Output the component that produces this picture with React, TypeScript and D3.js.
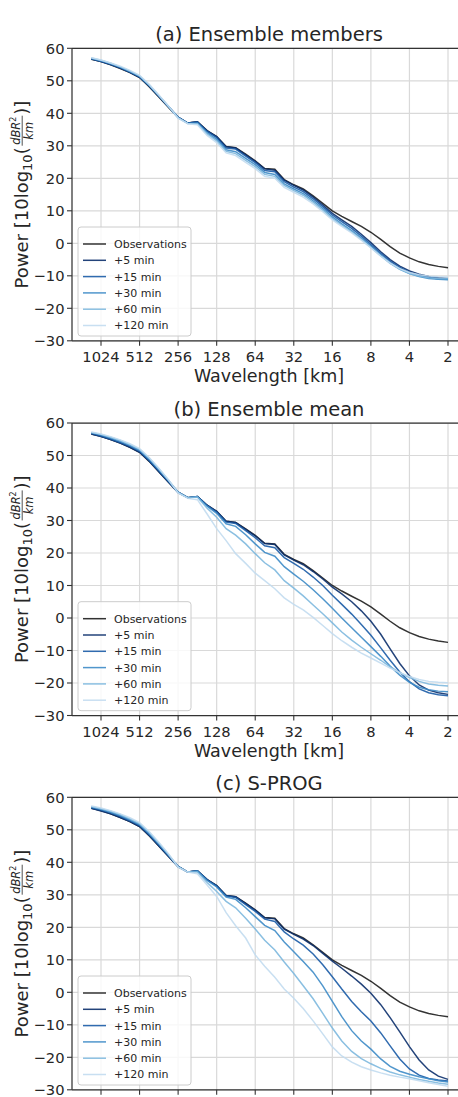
import React from 'react';
import * as d3 from 'd3';

// wavelengths [km], quarter-octave steps from the largest scale down to 2 km
const wavelengths = [1218, 1024, 861, 724, 609, 512, 431, 362, 304, 256, 215, 181, 152, 128, 108, 91, 76, 64, 54, 45, 38, 32, 27, 22.6, 19, 16, 13.5, 11.3, 9.5, 8, 6.7, 5.66, 4.76, 4, 3.36, 2.83, 2.38, 2];

const observations = [56.6, 55.9, 54.9, 53.8, 52.5, 51.0, 48.2, 45.0, 41.8, 38.7, 37.0, 37.4, 34.7, 32.8, 29.8, 29.4, 27.4, 25.4, 23.0, 22.8, 19.6, 18.0, 16.7, 14.6, 12.3, 10.0, 8.3, 6.7, 5.2, 3.4, 1.2, -1.0, -3.0, -4.5, -5.7, -6.5, -7.1, -7.5];

// (a) ensemble members
const membersP5 = [56.7, 55.9, 55.0, 53.9, 52.6, 51.1, 48.4, 45.2, 42.0, 38.8, 37.0, 37.4, 34.6, 32.8, 29.7, 29.3, 27.2, 25.2, 22.9, 22.5, 19.4, 17.8, 16.4, 14.2, 11.8, 9.2, 7.2, 5.2, 2.8, 0.2, -2.6, -5.0, -7.0, -8.5, -9.5, -10.2, -10.6, -10.8];
const membersP15 = [56.8, 56.0, 55.1, 54.0, 52.7, 51.2, 48.5, 45.3, 42.0, 38.8, 37.0, 37.3, 34.4, 32.5, 29.3, 29.0, 26.8, 24.8, 22.4, 22.0, 19.0, 17.3, 15.9, 13.7, 11.3, 8.7, 6.7, 4.6, 2.2, -0.4, -3.1, -5.5, -7.4, -8.9, -9.9, -10.5, -10.9, -11.0];
const membersP30 = [56.9, 56.2, 55.3, 54.2, 52.9, 51.4, 48.6, 45.4, 42.1, 38.7, 36.9, 37.0, 34.0, 32.0, 28.8, 28.2, 26.1, 24.2, 21.8, 21.2, 18.3, 16.7, 15.3, 13.1, 10.7, 8.1, 6.0, 3.9, 1.6, -0.9, -3.6, -6.0, -7.9, -9.3, -10.2, -10.8, -11.1, -11.2];
const membersP60 = [57.0, 56.3, 55.4, 54.3, 53.0, 51.5, 48.8, 45.5, 42.1, 38.6, 36.9, 36.8, 33.6, 31.5, 28.3, 27.6, 25.5, 23.6, 21.2, 20.6, 17.8, 16.2, 14.8, 12.6, 10.2, 7.6, 5.6, 3.5, 1.2, -1.3, -3.9, -6.2, -8.0, -9.3, -10.1, -10.6, -10.8, -10.9];
const membersP120 = [57.1, 56.4, 55.5, 54.5, 53.2, 51.7, 48.9, 45.6, 42.2, 38.5, 36.8, 36.5, 33.2, 31.0, 27.8, 27.0, 24.9, 23.0, 20.6, 20.0, 17.2, 15.7, 14.2, 12.1, 9.7, 7.2, 5.2, 3.2, 1.0, -1.4, -3.9, -6.1, -7.8, -9.0, -9.7, -10.1, -10.3, -10.4];

// (b) ensemble mean
const meanP5 = [56.6, 55.8, 54.9, 53.8, 52.5, 51.0, 48.3, 45.0, 41.8, 38.6, 37.0, 37.4, 34.7, 32.8, 29.8, 29.4, 27.3, 25.3, 22.9, 22.6, 19.4, 17.8, 16.4, 14.3, 12.0, 9.5, 7.4, 5.0, 2.2, -1.0, -5.0, -9.5, -14.0, -17.8, -20.6, -22.2, -23.0, -23.5];
const meanP15 = [56.8, 56.0, 55.1, 54.0, 52.8, 51.3, 48.5, 45.3, 42.0, 38.7, 37.0, 37.4, 34.6, 32.6, 29.5, 29.1, 26.9, 24.7, 22.2, 21.6, 18.6, 16.8, 15.0, 12.6, 10.0, 7.0, 4.2, 1.2, -2.0, -5.3, -9.2, -13.0, -16.6, -19.6, -21.8, -23.0, -23.6, -23.9];
const meanP30 = [57.0, 56.3, 55.4, 54.4, 53.1, 51.6, 48.9, 45.6, 42.2, 38.7, 37.0, 37.3, 34.4, 32.2, 29.0, 28.2, 25.6, 22.8, 20.2, 19.0, 15.8, 13.5, 11.3, 8.7, 5.9, 3.0, 0.0, -3.0, -5.9, -8.8, -11.8, -14.8, -17.6, -19.8, -21.3, -22.1, -22.5, -22.7];
const meanP60 = [57.1, 56.5, 55.6, 54.6, 53.4, 51.9, 49.2, 45.9, 42.4, 38.6, 37.0, 37.2, 33.8, 31.0, 27.5, 25.5, 22.8, 19.8, 17.0, 14.8, 11.5, 9.2, 6.8, 4.0, 1.3, -1.5, -4.3, -6.8, -9.0, -11.0, -13.0, -15.0, -16.8, -18.3, -19.5, -20.3, -20.7, -20.9];
const meanP120 = [57.2, 56.6, 55.8, 54.8, 53.6, 52.1, 49.4, 46.1, 42.5, 38.5, 36.8, 36.4, 32.0, 27.5, 23.8, 19.8, 16.8, 13.8, 11.5, 9.0, 6.2, 4.2, 2.5, 0.2, -2.3, -4.8, -7.0, -9.0, -10.8, -12.3, -13.9, -15.4, -16.8, -18.0, -18.9, -19.5, -19.8, -19.9];

// (c) S-PROG
const sprogP5 = [56.6, 55.8, 54.9, 53.8, 52.5, 51.0, 48.3, 45.0, 41.8, 38.6, 37.0, 37.4, 34.7, 32.8, 29.8, 29.4, 27.3, 25.3, 22.9, 22.6, 19.4, 17.8, 16.4, 14.4, 12.0, 9.6, 7.4, 5.0, 2.5, -0.3, -3.8, -7.8, -12.2, -16.7, -20.8, -23.9, -25.8, -26.8];
const sprogP15 = [56.8, 56.1, 55.2, 54.1, 52.8, 51.3, 48.5, 45.3, 42.0, 38.7, 37.0, 37.4, 34.6, 32.7, 29.6, 29.2, 27.0, 24.9, 22.5, 21.8, 18.6, 16.4, 14.5, 11.8, 8.5, 4.8, 1.0, -2.8, -6.0, -8.8, -12.5, -16.5, -20.5, -23.6, -25.5, -26.5, -27.0, -27.3];
const sprogP30 = [57.0, 56.3, 55.4, 54.4, 53.1, 51.6, 48.9, 45.6, 42.2, 38.7, 37.0, 37.3, 34.4, 32.4, 29.3, 28.6, 26.0, 23.3, 20.6, 19.0, 15.5, 12.5, 9.5, 6.2, 2.0, -2.8, -7.5, -11.8, -15.0, -17.5, -20.5, -22.8, -24.3, -25.2, -26.0, -26.6, -27.2, -27.6];
const sprogP60 = [57.2, 56.5, 55.7, 54.7, 53.4, 51.9, 49.2, 45.9, 42.4, 38.6, 37.0, 37.0, 33.8, 31.0, 28.0, 26.0, 22.8, 19.5, 16.0, 13.0, 9.3, 5.8, 2.0, -2.0, -6.5, -11.0, -15.0, -18.2, -20.4, -22.0, -23.4, -24.5, -25.4, -26.1, -26.8, -27.4, -27.9, -28.3];
const sprogP120 = [57.3, 56.7, 55.9, 54.9, 53.7, 52.2, 49.5, 46.2, 42.6, 38.5, 37.0, 36.5, 33.0, 29.5, 24.5, 20.5, 16.7, 11.5, 8.0, 4.6, 1.0, -1.8, -5.0, -8.8, -12.8, -16.8, -19.6, -21.5, -22.9, -23.9, -24.8, -25.5, -26.1, -26.6, -27.2, -27.8, -28.4, -28.9];

const leadTimes = ['+5 min', '+15 min', '+30 min', '+60 min', '+120 min'];
const leadColors = ['#0b2f6b', '#1a5ba6', '#3d8bc6', '#7db8de', '#c2dbef'];
const panelTitles = ['(a) Ensemble members', '(b) Ensemble mean', '(c) S-PROG'];
const xTicks = [1024, 512, 256, 128, 64, 32, 16, 8, 4, 2];
const yTicks = [-30, -20, -10, 0, 10, 20, 30, 40, 50, 60];

const panelSeries = [
  [membersP5, membersP15, membersP30, membersP60, membersP120],
  [meanP5, meanP15, meanP30, meanP60, meanP120],
  [sprogP5, sprogP15, sprogP30, sprogP60, sprogP120],
];

const W = 458;
const H = 1097;
const left = 72;
const right = 466;
const plotH = 292.5;
const panelTops = [48.3, 423, 797.3];
const font = '"DejaVu Sans", sans-serif';
const ink = '#262626';

const fmt = (v: number) => (v < 0 ? '\u2212' + Math.abs(v) : String(v));

function YLabel({ cx, cy }: { cx: number; cy: number }) {
  // Power [10log_10(dBR^2/km)], laid out piecewise with DejaVu Sans advance widths
  const fs = 18;
  const subFs = 13;
  const w1 = 6.564 * fs;
  const wSub = 1.272 * subFs;
  const wPar = 0.39 * fs;
  const wFrac = 30;
  const total = w1 + wSub + wPar + wFrac + 2 + wPar * 2;
  const s = -total / 2;
  const fx = s + w1 + wSub + wPar + 1;
  return (
    <g transform={`translate(${cx},${cy}) rotate(-90)`} fontFamily={font} fill={ink}>
      <text x={s} y={0} fontSize={fs}>
        Power [10log<tspan fontSize={subFs} dy={4}>10</tspan>
        <tspan dy={-4}>(</tspan>
      </text>
      <text x={fx + wFrac / 2} y={-8.5} fontSize={11.5} fontStyle="italic" textAnchor="middle">
        dBR<tspan fontSize={8} dy={-4} fontStyle="normal">2</tspan>
      </text>
      <line x1={fx} x2={fx + wFrac} y1={-5.8} y2={-5.8} stroke={ink} strokeWidth={0.8} />
      <text x={fx + wFrac / 2} y={4.5} fontSize={11.5} fontStyle="italic" textAnchor="middle">km</text>
      <text x={fx + wFrac + 1} y={0} fontSize={fs}>)]</text>
    </g>
  );
}

function Panel({ top, title, series, showX }: { top: number; title: string; series: number[][]; showX: boolean }) {
  const x = d3.scaleLog().domain([1725, 1.447]).range([left, right]);
  const y = d3.scaleLinear().domain([-30, 60]).range([top + plotH, top]);
  const bottom = top + plotH;
  const line = d3.line<number>().x((_, i) => x(wavelengths[i])).y((d) => y(d));
  const legendRows = ['Observations', ...leadTimes];
  const legendColors = ['#000', ...leadColors];
  const rowY = (i: number) => bottom - 96.8 + i * 16.3;

  return (
    <g>
      {/* grid */}
      {xTicks.map((t) => (
        <line key={'gx' + t} x1={x(t)} x2={x(t)} y1={top} y2={bottom} stroke="#d9d9d9" strokeWidth={1.2} />
      ))}
      {yTicks.map((t) => (
        <line key={'gy' + t} x1={left} x2={right} y1={y(t)} y2={y(t)} stroke="#d9d9d9" strokeWidth={1.2} />
      ))}

      {/* series */}
      <path d={line(observations) || ''} fill="none" stroke="#000" strokeOpacity={0.8} strokeWidth={1.5} />
      {series.map((s, i) => (
        <path key={i} d={line(s) || ''} fill="none" stroke={leadColors[i]} strokeOpacity={0.9} strokeWidth={1.5} />
      ))}

      {/* spines */}
      <line x1={left} x2={left} y1={top} y2={bottom} stroke="#333" strokeWidth={1.25} />
      <line x1={left} x2={right} y1={bottom} y2={bottom} stroke="#333" strokeWidth={1.25} />
      <line x1={left} x2={right} y1={top} y2={top} stroke="#333" strokeWidth={1.25} />

      {/* y ticks */}
      {yTicks.map((t) => (
        <g key={'ty' + t}>
          <line x1={left - 5} x2={left} y1={y(t)} y2={y(t)} stroke="#333" strokeWidth={1.1} />
          <text x={left - 7.5} y={y(t) + 5.3} textAnchor="end" fontFamily={font} fontSize={14.7} fill={ink}>
            {fmt(t)}
          </text>
        </g>
      ))}

      {/* x ticks */}
      {xTicks.map((t) => (
        <g key={'tx' + t}>
          <line x1={x(t)} x2={x(t)} y1={bottom} y2={bottom + 5} stroke="#333" strokeWidth={1.1} />
          {showX && (
            <text x={x(t)} y={bottom + 21} textAnchor="middle" fontFamily={font} fontSize={14.7} fill={ink}>
              {t}
            </text>
          )}
        </g>
      ))}
      {showX && (
        <text x={(left + right) / 2} y={bottom + 41} textAnchor="middle" fontFamily={font} fontSize={17.5} fill={ink}>
          Wavelength [km]
        </text>
      )}

      {/* title */}
      <text x={(left + right) / 2} y={top - 7} textAnchor="middle" fontFamily={font} fontSize={19.5} fill={ink}>
        {title}
      </text>

      <YLabel cx={28} cy={top + plotH / 2} />

      {/* legend */}
      <rect x={78} y={bottom - 113.8} width={113} height={109} rx={3} fill="#fff" fillOpacity={0.8} stroke="#cccccc" strokeWidth={1} />
      {legendRows.map((name, i) => (
        <g key={name}>
          <line x1={83} x2={106} y1={rowY(i)} y2={rowY(i)} stroke={legendColors[i]} strokeOpacity={i === 0 ? 0.8 : 0.9} strokeWidth={1.5} />
          <text x={114} y={rowY(i) + 3.9} fontFamily={font} fontSize={11} fill={ink}>
            {name}
          </text>
        </g>
      ))}
    </g>
  );
}

export default function App() {
  return (
    <svg width={W} height={H} style={{ position: 'absolute', left: 0, top: 0, background: '#fff' }}>
      <rect x={0} y={0} width={W} height={H} fill="#fff" />
      {panelTitles.map((title, i) => (
        <Panel key={title} top={panelTops[i]} title={title} series={panelSeries[i]} showX={i < 2} />
      ))}
    </svg>
  );
}
